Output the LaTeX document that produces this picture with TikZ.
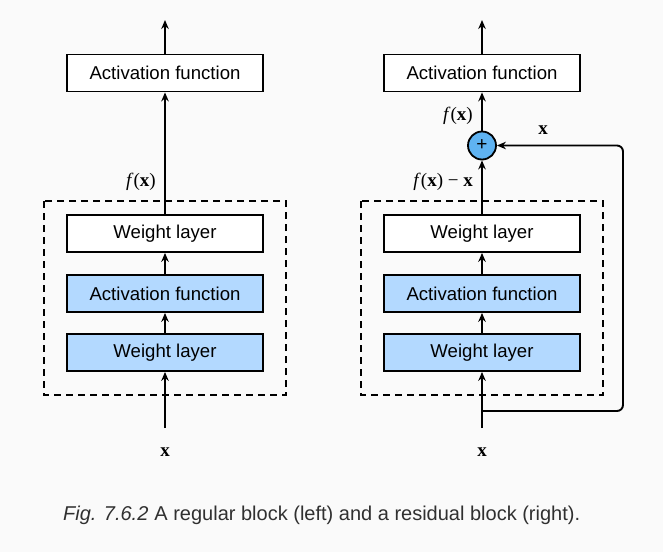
\documentclass[tikz,border=0pt]{standalone}
\usepackage{fontspec}
\setmainfont{Liberation Sans}
\newfontfamily\serifx{Liberation Serif}
\usetikzlibrary{arrows.meta}
\definecolor{bg}{HTML}{FAFAFA}
\definecolor{boxblue}{HTML}{B3D9FF}
\definecolor{plusblue}{HTML}{5FB3F2}
\definecolor{captiongray}{HTML}{303030}
\tikzset{
  layerbox/.style={draw, line width=1.8pt, minimum width=196pt, minimum height=37pt, inner sep=0pt, font=\fontsize{18.6}{20}\selectfont, text=black},
  bluebox/.style={layerbox, fill=boxblue},
  whitebox/.style={layerbox, fill=white},
  arr/.style={line width=1.9pt, -{Stealth[length=9pt,width=7.5pt]}},
  dashbox/.style={line width=1.8pt, dash pattern=on 7pt off 5pt},
  mlabel/.style={font=\serifx\fontsize{19}{21}\selectfont, inner sep=0pt},
}
\begin{document}
\begin{tikzpicture}[x=1pt,y=-1pt]
\useasboundingbox[fill=bg] (0,0) rectangle (663,552);
% ---------- left block
\draw[dashbox] (44,201) rectangle (286,395);
\node[whitebox] (Ltop) at (165,73) {Activation function};
\node[whitebox] (Lw2) at (165,233.5) {Weight layer};
\node[bluebox] (La) at (165,293.5) {Activation function};
\node[bluebox] (Lw1) at (165,352.5) {Weight layer};
\coordinate (Lout) at (165,20);
\coordinate (Lin) at (165,428);
\node[mlabel] (Lfx) at (141,182) {\textit{f}(\textbf{x})};
\node[mlabel] (Lx) at (165,452) {\textbf{x}};
\draw[arr] (Lin) -- (Lw1.south);
\draw[arr] (Lw1.north) -- (La.south);
\draw[arr] (La.north) -- (Lw2.south);
\draw[arr] (Lw2.north) -- (Ltop.south);
\draw[arr] (Ltop.north) -- (Lout);
% ---------- right block
\draw[dashbox] (361,201) rectangle (603,395);
\node[whitebox] (Rtop) at (482,73) {Activation function};
\node[whitebox] (Rw2) at (482,233.5) {Weight layer};
\node[bluebox] (Ra) at (482,293.5) {Activation function};
\node[bluebox] (Rw1) at (482,352.5) {Weight layer};
\node[circle, draw, line width=1.8pt, fill=plusblue, minimum size=28pt, inner sep=0pt, font=\fontsize{19}{19}\selectfont] (plus) at (482,145.5) {+};
\coordinate (Rout) at (482,20);
\coordinate (Rin) at (482,428);
\coordinate (Rsplit) at (482,411);
\node[mlabel] (Rfx) at (458,116) {\textit{f}(\textbf{x})};
\node[mlabel, anchor=east] (Rfxx) at (473,182) {\textit{f}(\textbf{x}) − \textbf{x}};
\node[mlabel] (Rxs) at (543,130) {\textbf{x}};
\node[mlabel] (Rx) at (482,452) {\textbf{x}};
\draw[arr] (Rin) -- (Rw1.south);
\draw[arr] (Rw1.north) -- (Ra.south);
\draw[arr] (Ra.north) -- (Rw2.south);
\draw[arr] (Rw2.north) -- (plus.south);
\draw[arr] (plus.north) -- (Rtop.south);
\draw[arr] (Rtop.north) -- (Rout);
\draw[arr, rounded corners=6pt] (Rsplit) -- (623,411) -- (623,145.5) -- (plus.east);
% ---------- caption
\node[anchor=west, inner sep=0pt, text=captiongray, font=\fontsize{20}{22}\selectfont] (cap) at (63,515) {\textit{Fig. 7.6.2}\hspace{6pt}A regular block (left) and a residual block (right).};
\end{tikzpicture}
\end{document}
